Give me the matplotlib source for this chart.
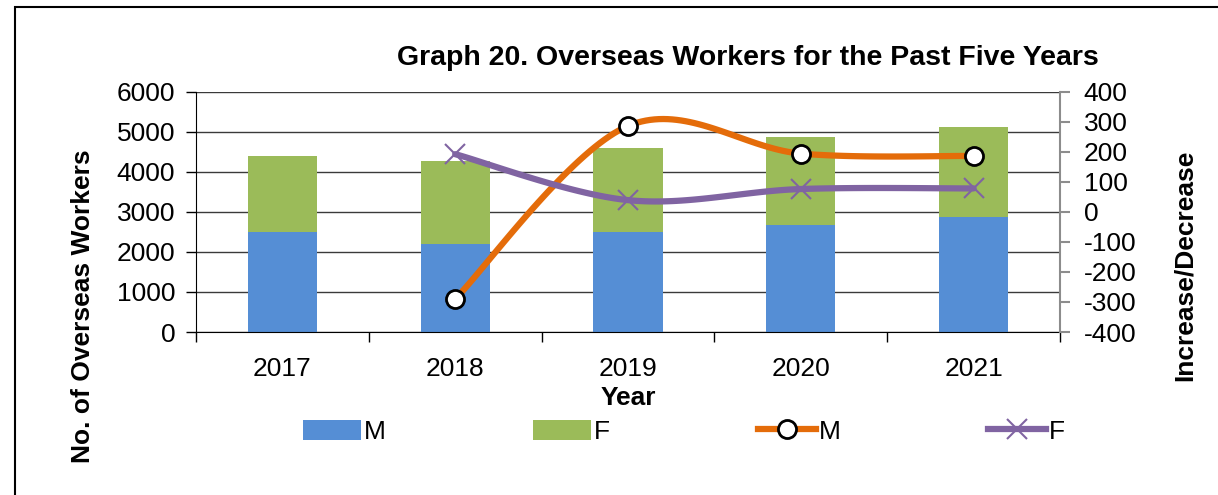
import matplotlib

matplotlib.use("Agg")

import matplotlib.pyplot as plt  # noqa: E402
import numpy as np  # noqa: E402
from matplotlib.lines import Line2D  # noqa: E402
from matplotlib.patches import Patch, Rectangle  # noqa: E402

plt.rcParams["font.family"] = ["Liberation Sans", "DejaVu Sans"]
plt.rcParams["axes.unicode_minus"] = False

years = ["2017", "2018", "2019", "2020", "2021"]
male = [2500, 2200, 2490, 2680, 2875]
female = [1883, 2075, 2110, 2187, 2250]
# year-on-year change (no value for 2017)
male_change = [-290, 286, 194, 186]
female_change = [192, 39, 76, 78]

BLUE = "#558ED5"
GREEN = "#9BBB59"
ORANGE = "#E46C0A"
PURPLE = "#8064A2"
FS = 19


def smooth(x, y, n=40):
    # catmull-rom spline, close to the excel "smoothed line"
    x = np.asarray(x, float)
    y = np.asarray(y, float)
    px = np.concatenate([[x[0]], x, [x[-1]]])
    py = np.concatenate([[y[0]], y, [y[-1]]])
    xs, ys = [], []
    t = np.linspace(0, 1, n)
    for i in range(1, len(px) - 2):
        for p, out in ((px, xs), (py, ys)):
            p0, p1, p2, p3 = p[i - 1], p[i], p[i + 1], p[i + 2]
            m1 = (p2 - p0) / 2.0
            m2 = (p3 - p1) / 2.0
            h00 = 2 * t**3 - 3 * t**2 + 1
            h10 = t**3 - 2 * t**2 + t
            h01 = -2 * t**3 + 3 * t**2
            h11 = t**3 - t**2
            out.extend(h00 * p1 + h10 * m1 + h01 * p2 + h11 * m2)
    return np.array(xs), np.array(ys)


fig = plt.figure(figsize=(12.18, 4.95), dpi=100)
ax = fig.add_axes([196 / 1218, 1 - 332 / 495, 864 / 1218, 240.3 / 495])

ind = np.arange(len(years))
width = 0.4
ax.bar(ind, male, width, color=BLUE, zorder=2)
ax.bar(ind, female, width, bottom=male, color=GREEN, zorder=2)

ax.set_xlim(-0.5, len(years) - 0.5)
ax.set_ylim(0, 6000)
ax.set_yticks(np.arange(0, 6001, 1000))
ax.set_axisbelow(True)
ax.yaxis.grid(True, color="#3a3a3a", linewidth=1.0)
ax.set_xticks(ind)
ax.set_xticklabels(years)
ax.set_xticks(np.arange(-0.5, len(years), 1.0), minor=True)
ax.tick_params(axis="x", which="major", length=0, pad=18, labelsize=FS)
ax.tick_params(axis="x", which="minor", length=7, width=1, color="black", direction="out")
ax.tick_params(axis="y", length=7, width=1, direction="out", labelsize=FS, pad=8)
ax.spines["top"].set_visible(False)
ax.spines["right"].set_visible(False)
ax.spines["left"].set_color("black")
ax.spines["bottom"].set_color("black")

ax2 = ax.twinx()
ax2.set_ylim(-400, 400)
ax2.set_yticks(np.arange(-400, 401, 100))
ax2.tick_params(axis="y", length=7, width=1.5, color="#8c8c8c", labelsize=FS, pad=10)
for side in ("top", "left", "bottom"):
    ax2.spines[side].set_visible(False)
ax2.spines["right"].set_color("#8c8c8c")
ax2.spines["right"].set_linewidth(1.5)

cx = ind[1:]
sx, sy = smooth(cx, male_change)
ax2.plot(sx, sy, color=ORANGE, linewidth=4.5, solid_capstyle="round", zorder=3)
ax2.plot(cx, male_change, linestyle="none", marker="o", markersize=13,
         markerfacecolor="white", markeredgecolor="black", markeredgewidth=2, zorder=4)
sx, sy = smooth(cx, female_change)
ax2.plot(sx, sy, color=PURPLE, linewidth=4.5, solid_capstyle="round", zorder=3)
ax2.plot(cx, female_change, linestyle="none", marker="x", markersize=15,
         markeredgecolor=PURPLE, markeredgewidth=1.5, zorder=4)

fig.text(0.614, 0.883, "Graph 20. Overseas Workers for the Past Five Years",
         ha="center", va="center", fontsize=20.5, fontweight="bold")
fig.text(0.516, 0.196, "Year", ha="center", va="center", fontsize=FS, fontweight="bold")
fig.text(0.068, 0.382, "No. of Overseas Workers", ha="center", va="center",
         rotation=90, fontsize=FS, fontweight="bold")
fig.text(0.973, 0.465, "Increase/Decrease", ha="center", va="center",
         rotation=90, fontsize=FS, fontweight="bold")

handles = [
    Patch(facecolor=BLUE),
    Patch(facecolor=GREEN),
    Line2D([], [], color=ORANGE, linewidth=4.5, marker="o", markersize=13,
           markerfacecolor="white", markeredgecolor="black", markeredgewidth=2),
    Line2D([], [], color=PURPLE, linewidth=4.5, marker="x", markersize=15,
           markeredgecolor=PURPLE, markeredgewidth=1.5),
]
fig.legend(handles, ["M", "F", "M", "F"], loc="center", ncol=4,
           bbox_to_anchor=(684 / 1218, 1 - 432 / 495), frameon=False, fontsize=FS,
           handlelength=2.2, handletextpad=0.1, columnspacing=5.6, handleheight=0.8)

fig.patches.append(Rectangle((15 / 1218, -0.1), 1.1, 1.1 - 7 / 495, fill=False,
                             edgecolor="black", linewidth=1.5,
                             transform=fig.transFigure, figure=fig))

fig.savefig("out.png", dpi=100)
